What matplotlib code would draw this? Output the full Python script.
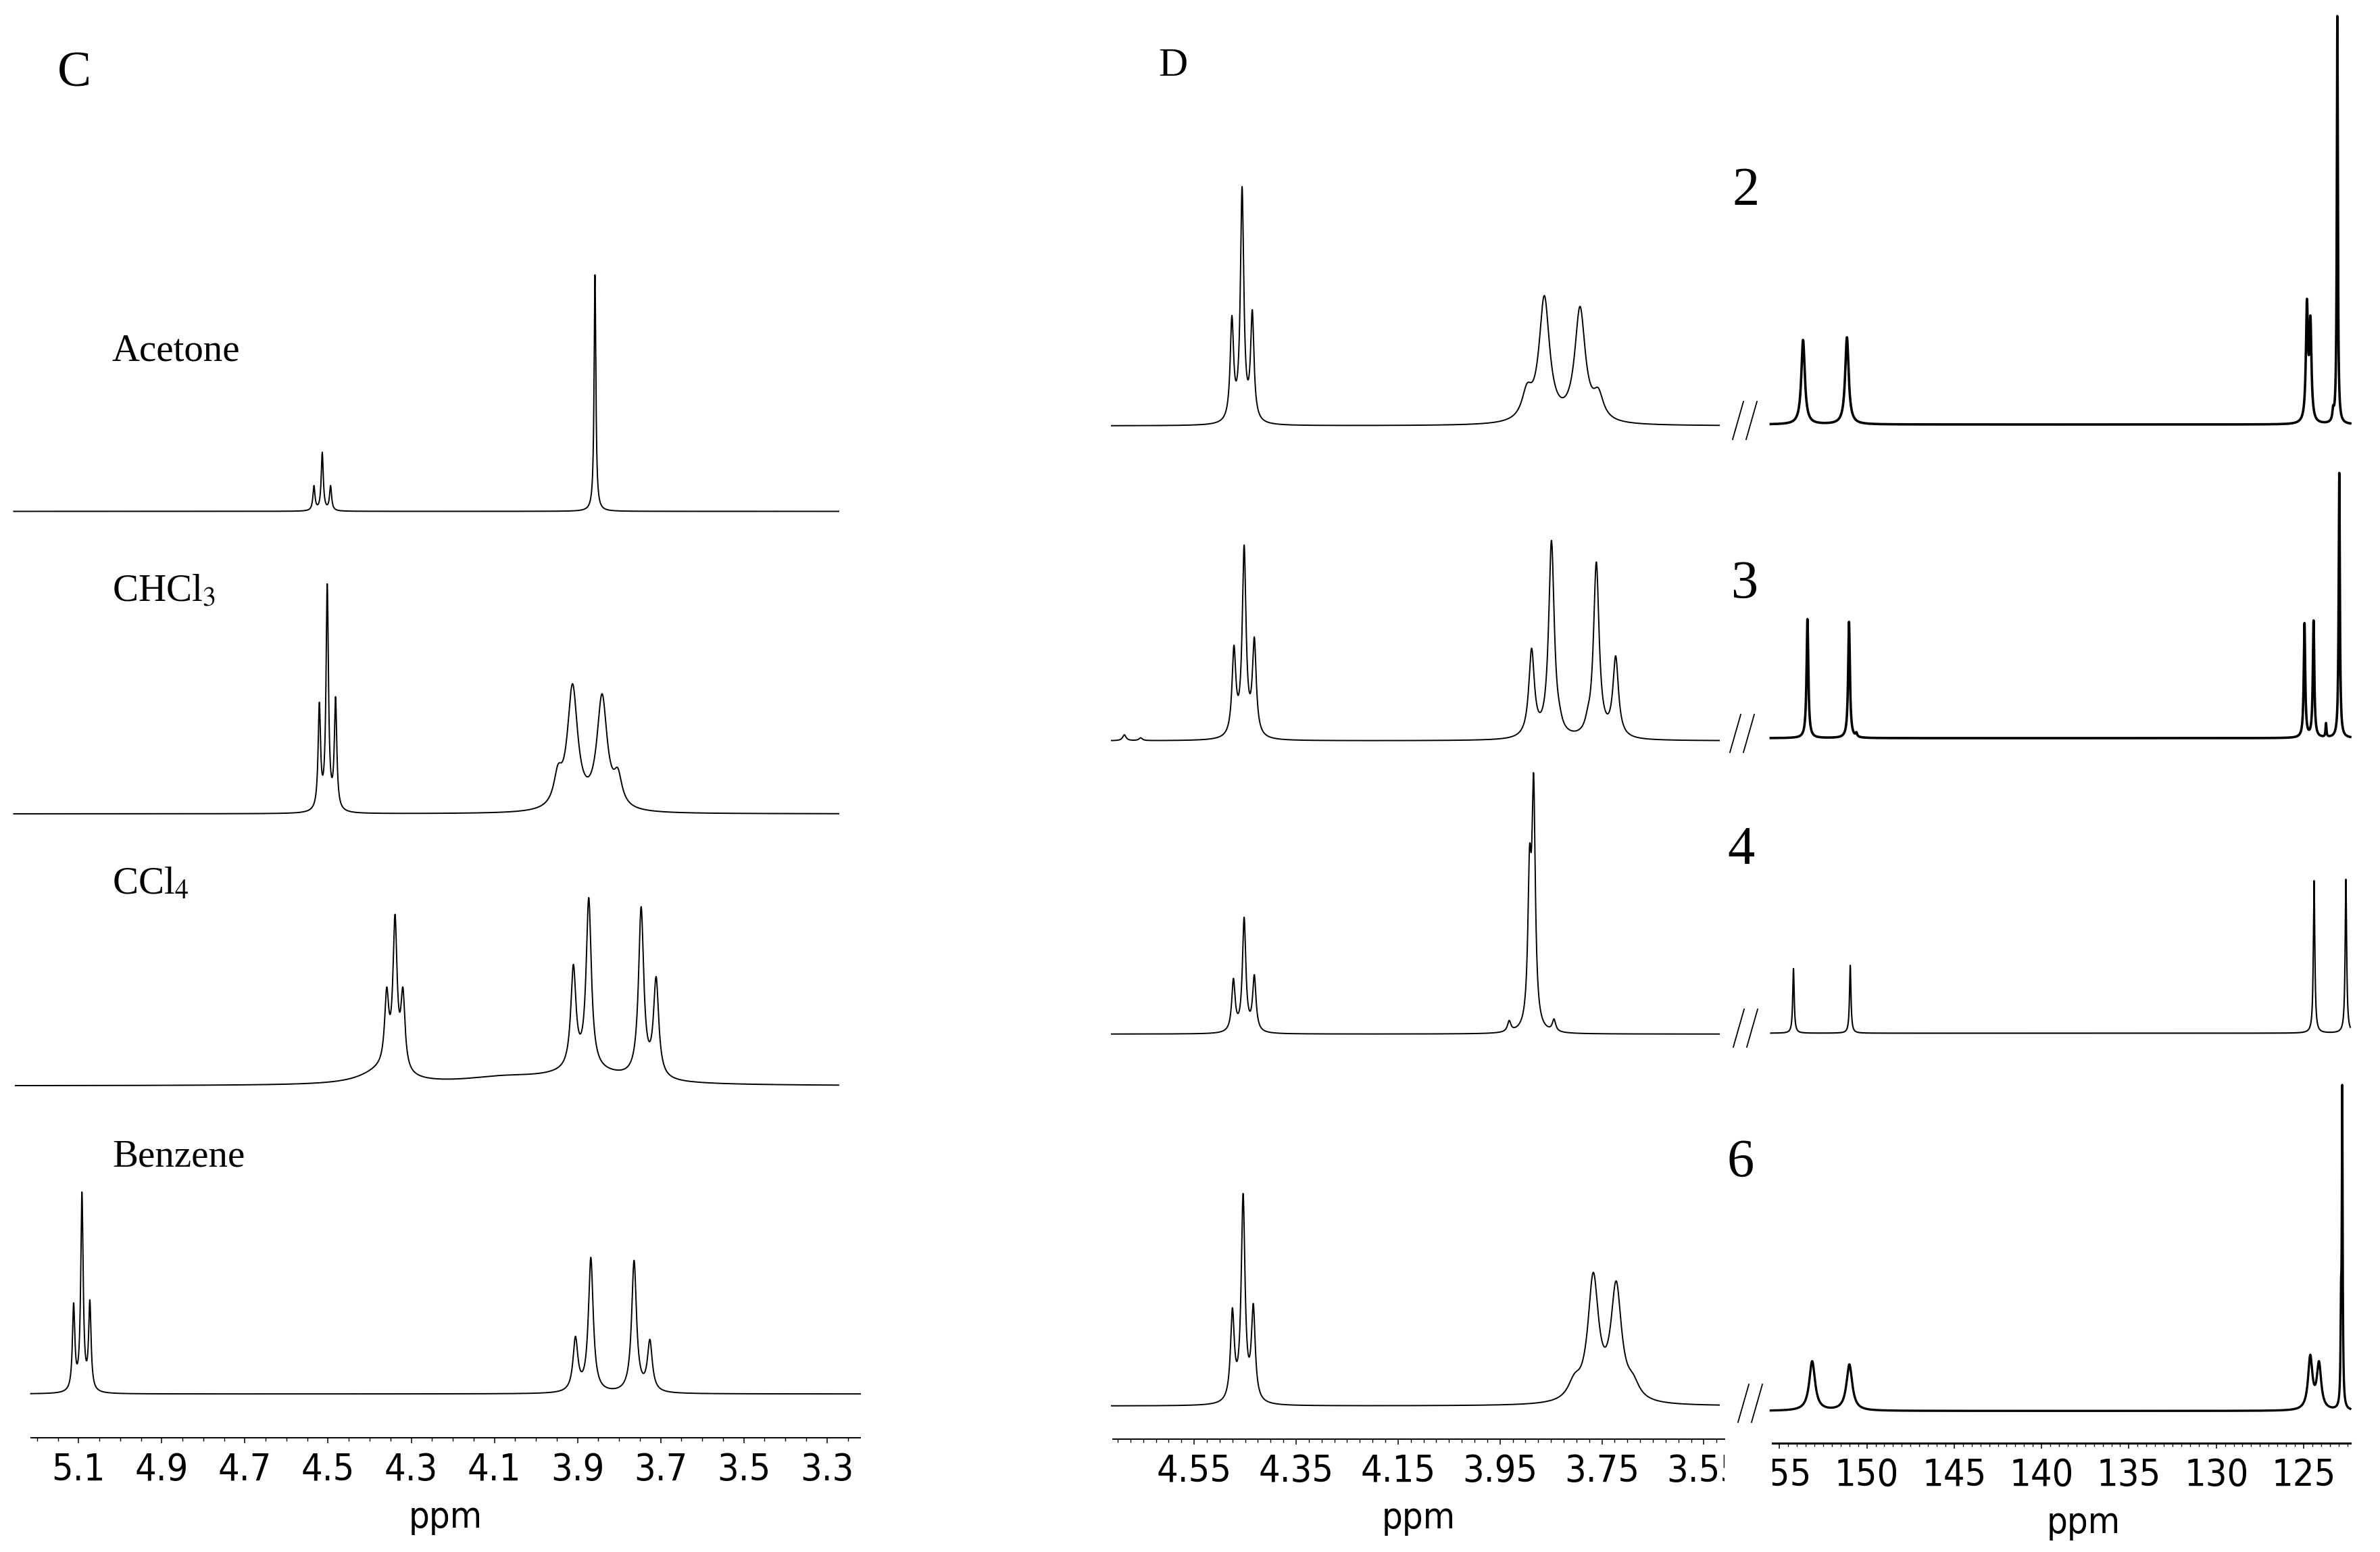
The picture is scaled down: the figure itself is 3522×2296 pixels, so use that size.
import numpy as np
import matplotlib
matplotlib.use('Agg')
import matplotlib.pyplot as plt
from matplotlib.lines import Line2D
from matplotlib.ticker import FixedLocator, FixedFormatter, MultipleLocator
from matplotlib.transforms import Bbox, TransformedBbox

plt.rcParams['mathtext.fontset'] = 'stix'

W, H = 3522, 2296
SC = W / 1568  # intensities below were read on a 1568 px wide copy

# ---- panel C: 1H spectra in four solvents (ppm, peak height, half width)
solvents = ['Acetone', 'CHCl$_3$', 'CCl$_4$', 'Benzene']
c_ppm = [
    [4.534, 4.514, 4.494, 3.858],
    [4.521, 4.502, 4.482, 3.947, 3.912, 3.841, 3.803],
    [4.359, 4.339, 4.320, 3.910, 3.873, 3.747, 3.711],
    [5.112, 5.092, 5.073, 3.905, 3.868, 3.764, 3.726],
]
c_height = [
    [17, 39, 17, 156],
    [73.6, 151.5, 77.2, 32.6, 85.7, 79.1, 30.2],
    [65, 113, 65, 80, 124, 118, 72],
    [60, 133, 62, 38, 90, 88, 36],
]
c_hw = [
    [0.003, 0.003, 0.003, 0.0025],
    [0.0035, 0.0035, 0.0035, 0.012, 0.015, 0.015, 0.012],
    [0.006, 0.006, 0.006, 0.0075, 0.0075, 0.0075, 0.0075],
    [0.0035, 0.0035, 0.0035, 0.007, 0.007, 0.007, 0.007],
]
# broad humps under the CCl4 trace: (ppm, height, half width)
c_broad = [[], [], [(4.37, 9, 0.06), (4.08, 4, 0.12), (3.88, 8, 0.12)], []]
c_span = [(5.256, 3.272), (5.256, 3.272), (5.252, 3.272), (5.215, 3.22)]
c_ticklabels = ['5.1', '4.9', '4.7', '4.5', '4.3', '4.1', '3.9', '3.7', '3.5', '3.3']

# ---- panel D, left: 1H spectra of compounds 2, 3, 4, 6
compounds = ['2', '3', '4', '6']
dl_ppm = [
    [4.476, 4.456, 4.436, 3.897, 3.863, 3.793, 3.757],
    [4.687, 4.655, 4.472, 4.452, 4.432, 3.888, 3.849, 3.833, 3.778, 3.761, 3.723],
    [4.473, 4.452, 4.432, 3.932, 3.892, 3.884, 3.844],
    [4.475, 4.454, 4.434, 3.804, 3.767, 3.722, 3.689],
]
dl_height = [
    [72.7, 157.6, 76.5, 28, 85.8, 78.7, 25],
    [4, 2, 63, 129, 68.4, 61, 132, 24, 22, 117.8, 56],
    [36.7, 77, 39.1, 9, 124, 171.8, 10],
    [64.7, 140, 67.5, 21.4, 88, 82.4, 21.4],
]
dl_hw = [
    [0.004, 0.004, 0.004, 0.012, 0.0125, 0.0125, 0.012],
    [0.004, 0.004, 0.0045, 0.0045, 0.0045, 0.0066, 0.0066, 0.006, 0.006, 0.0066, 0.0066],
    [0.004, 0.004, 0.004, 0.004, 0.004, 0.004, 0.004],
    [0.0045, 0.0045, 0.0045, 0.015, 0.0127, 0.0127, 0.015],
]
dl_ticklabels = ['4.55', '4.35', '4.15', '3.95', '3.75', '3.55']

# ---- panel D, right: 13C spectra of compounds 2, 3, 4, 6
dr_ppm = [
    [153.65, 151.14, 124.81, 124.61, 123.31, 123.07],
    [153.40, 151.02, 150.60, 124.95, 124.43, 123.72, 122.96],
    [154.20, 150.95, 124.40, 122.58],
    [153.13, 151.00, 124.62, 124.12, 122.86, 122.79],
]
dr_height = [
    [55.7, 57.4, 82.7, 71.7, 12.6, 269],
    [78.4, 76.6, 4, 75.8, 77.5, 10, 174.7],
    [42.6, 44.7, 100.5, 101.4],
    [32.8, 30.7, 37, 32.8, 86, 214.8],
]
dr_hw = [
    [0.12, 0.12, 0.07, 0.07, 0.05, 0.035],
    [0.06, 0.06, 0.05, 0.05, 0.05, 0.03, 0.04],
    [0.05, 0.05, 0.05, 0.05],
    [0.2, 0.2, 0.15, 0.15, 0.03, 0.03],
]
dr_lw = [2.6, 2.6, 1.5, 2.4]  # noisier baselines look heavier
dr_ticklabels = ['155', '150', '145', '140', '135', '130', '125']


def lor(x, c, g):
    return 1.0 / (1.0 + ((x - c) / g) ** 2)


def spectrum(x, ppm, height, hw, broad=()):
    # Lorentzian lines whose summed tops hit the heights
    ppm = np.asarray(ppm, float)
    hw = np.asarray(hw, float)
    bg = np.zeros_like(x)
    bg_at = np.zeros(len(ppm))
    for c, h, g in broad:
        bg += h * lor(x, c, g)
        bg_at += h * lor(ppm, c, g)
    M = lor(ppm[:, None], ppm[None, :], hw[None, :])
    amp = np.linalg.solve(M, np.asarray(height, float) - bg_at)
    return bg + (amp[None, :] * lor(x[:, None], ppm[None, :], hw[None, :])).sum(axis=1)


fig = plt.figure(figsize=(W / 100, H / 100), dpi=100)


def make_axes(x0, x1, spine_row, xlim, labels, minor, spine_lw):
    ax = fig.add_axes([x0 / W, 1 - spine_row / H, (x1 - x0) / W, spine_row / H])
    ax.patch.set_visible(False)
    ax.set_xlim(*xlim)
    ax.set_ylim(0, spine_row / SC)
    for s in ['top', 'left', 'right']:
        ax.spines[s].set_visible(False)
    ax.spines['bottom'].set_linewidth(spine_lw)
    ax.set_yticks([])
    ax.xaxis.set_major_locator(FixedLocator([float(v) for v in labels]))
    ax.xaxis.set_major_formatter(FixedFormatter(labels))
    ax.xaxis.set_minor_locator(MultipleLocator(minor))
    ax.tick_params(axis='x', which='major', length=6, width=1.1, pad=9,
                   labelsize=40, direction='out')
    ax.tick_params(axis='x', which='minor', length=3.5, width=1.0, direction='out')
    for lab in ax.get_xticklabels():
        lab.set_fontfamily('DejaVu Sans')
        lab.set_fontstretch('condensed')
    clip = TransformedBbox(Bbox([[0, -1], [1, 1]]), ax.transAxes)
    for t in ax.xaxis.get_major_ticks():
        t.label1.set_clip_box(clip)
        t.label1.set_clip_on(True)
    ax.set_xlabel('ppm', fontsize=39, family='DejaVu Sans', fontstretch='condensed')
    ax.xaxis.label.set_va('center')
    return ax


# ---------------- panel C
axC = make_axes(45.6, 1273, 2127, (5.215, 3.22), c_ticklabels, 0.05, 1.4)
axC.xaxis.set_label_coords(0.5, -118 / 2127)
c_rows = [756.5, 1204, 1606.4, 2062.2]
c_text_rows = [534, 889, 1323, 1725]
for i in range(4):
    x = np.linspace(c_span[i][0], c_span[i][1], 8000)
    y = spectrum(x, c_ppm[i], c_height[i], c_hw[i], c_broad[i])
    axC.plot(x, y + (2127 - c_rows[i]) / SC, color='black', lw=1.4, clip_on=False)
    fig.text(166 / W, 1 - c_text_rows[i] / H, solvents[i], fontsize=41,
             family='Liberation Serif', ha='left', va='baseline')

# ---------------- panel D left
axDL = make_axes(1646.5, 2551.6, 2129, (4.71, 3.51), dl_ticklabels, 0.025, 1.4)
axDL.xaxis.set_label_coords(0.5, -117 / 2129)
dl_rows = [630, 1096, 1529.8, 2080]
for i in range(4):
    x = np.linspace(4.712, 3.52, 8000)
    y = spectrum(x, dl_ppm[i], dl_height[i], dl_hw[i])
    axDL.plot(x, y + (2129 - dl_rows[i]) / SC, color='black', lw=1.4, clip_on=False)

# ---------------- panel D right
axDR = make_axes(2623, 3478, 2135, (155.4, 122.33), dr_ticklabels, 0.5, 2.2)
axDR.xaxis.set_label_coords(0.538, -118 / 2135)
dr_rows = [628, 1092, 1528.5, 2087.3]
for i in range(4):
    x = np.linspace(155.5, 122.33, 20000)
    y = spectrum(x, dr_ppm[i], dr_height[i], dr_hw[i])
    axDR.plot(x, y + (2135 - dr_rows[i]) / SC, color='black', lw=dr_lw[i], clip_on=False)

# compound numbers and axis-break marks (two thin slanted strokes)
num_pos = [(2584, 303), (2582, 885), (2576, 1278), (2576, 1741)]
brk_pos = [(2582, 622), (2578, 1085), (2583, 1521), (2590, 2076)]
for i in range(4):
    fig.text(num_pos[i][0] / W, 1 - num_pos[i][1] / H, compounds[i], fontsize=58,
             family='Liberation Serif', ha='center', va='baseline')
    bx, by = brk_pos[i]
    for dx in (-10, 10):
        fig.add_artist(Line2D([(bx + dx - 8) / W, (bx + dx + 8) / W],
                              [1 - (by + 28) / H, 1 - (by - 28) / H],
                              transform=fig.transFigure, color='black', lw=1.3))

fig.text(85 / W, 1 - 128 / H, 'C', fontsize=54, family='Liberation Serif',
         ha='left', va='baseline')
fig.text(1714 / W, 1 - 112 / H, 'D', fontsize=43, family='Liberation Serif',
         ha='left', va='baseline')

fig.savefig('out.png', dpi=100, facecolor='white')
